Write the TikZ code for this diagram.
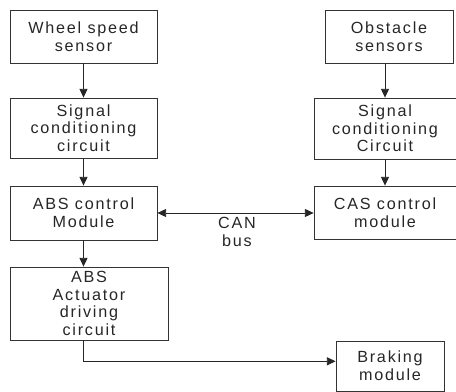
\documentclass[tikz,border=0pt]{standalone}
\usepackage{fontspec}
\setmainfont[LetterSpace=11]{Liberation Sans}
\usetikzlibrary{arrows.meta}

\tikzset{
  blk/.style={draw=black!80,line width=0.7pt,align=center,inner sep=0pt,
    font=\fontsize{13.8}{15}\selectfont,text=black!85},
  arr/.style={line width=0.7pt,draw=black!85,-{Triangle[length=2.6mm,width=2.4mm]}},
  biarr/.style={line width=0.7pt,draw=black!85,{Triangle[length=2.6mm,width=2.4mm]}-{Triangle[length=2.6mm,width=2.4mm]}}
}

\begin{document}
\begin{tikzpicture}
	\useasboundingbox (0,0) rectangle (13.68,11.76);
	% left column
	\node[blk,minimum width=4.41cm,minimum height=1.59cm] (wss) at (2.505,10.665) {Wheel speed\\sensor};
	\node[blk,minimum width=4.41cm,minimum height=1.80cm] (sigl) at (2.505,7.92) {Signal\\conditioning\\circuit};
	\node[blk,minimum width=4.41cm,minimum height=1.62cm] (absm) at (2.505,5.37) {ABS control\\Module};
	\node[blk,minimum width=4.74cm,minimum height=2.19cm] (act) at (2.67,2.655) {ABS\\Actuator\\driving\\circuit};
	% right column
	\node[blk,minimum width=3.84cm,minimum height=1.59cm] (obs) at (11.67,10.665) {Obstacle\\sensors};
	\node[blk,minimum width=4.26cm,minimum height=1.83cm] (sigr) at (11.55,7.905) {Signal\\conditioning\\Circuit};
	\node[blk,minimum width=4.26cm,minimum height=1.59cm] (casm) at (11.55,5.385) {CAS control\\module};
	\node[blk,minimum width=3.24cm,minimum height=1.50cm] (brk) at (11.7,0.78) {Braking\\module};
	\node[blk,draw=none] (can) at (7.11,4.8) {CAN\\bus};

	\draw[arr] (wss) -- (sigl);
	\draw[arr] (sigl) -- (absm);
	\draw[arr] (absm.south) -- (absm.south |- act.north);
	\draw[arr] (obs.south -| sigr) -- (sigr);
	\draw[arr] (sigr) -- (casm);
	\draw[biarr] (absm.east) -- (absm.east -| casm.west);
	\draw[arr] (act.south -| absm.south) |- ([yshift=4pt]brk.west);
\end{tikzpicture}
\end{document}
